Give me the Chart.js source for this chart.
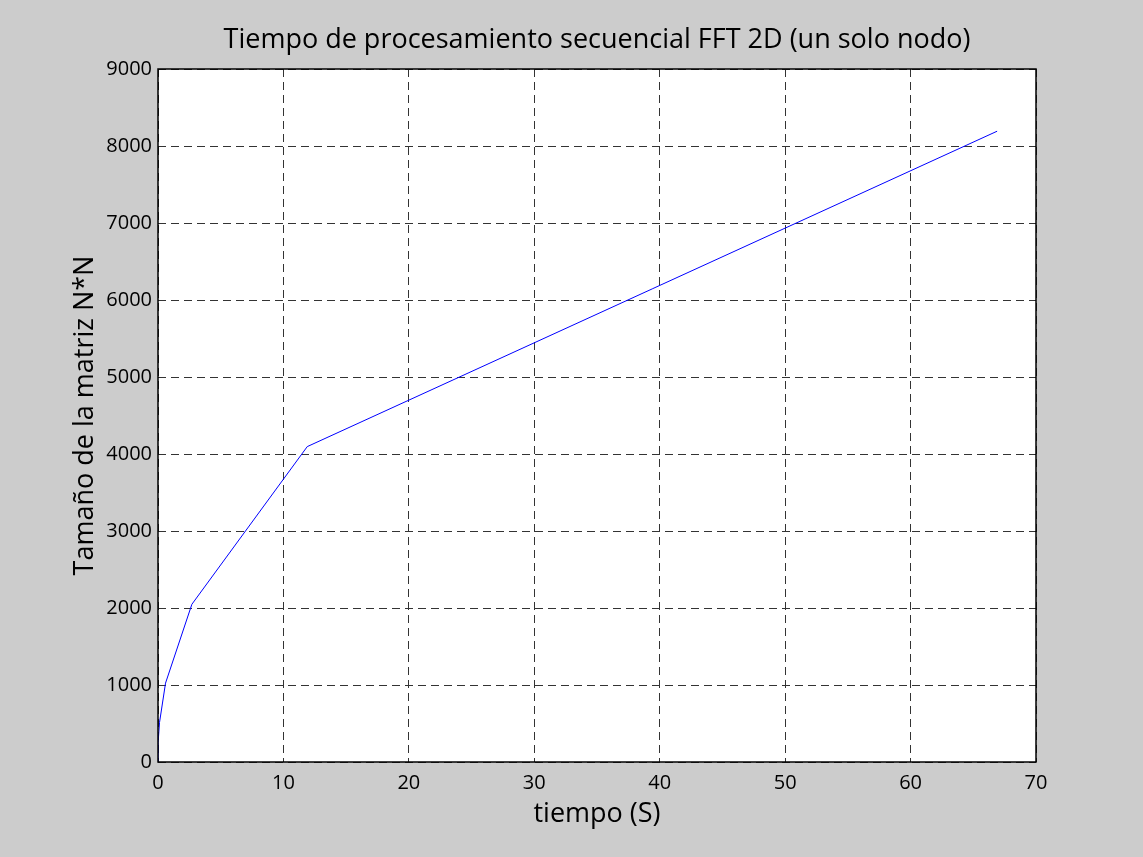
<!DOCTYPE html>
<html lang="es">
<head>
    <meta charset="UTF-8">
    <title>Tiempo de procesamiento secuencial FFT 2D</title>
    <style>
        html, body { margin: 0; padding: 0; background: #cccccc; }
        #wrap { width: 1143px; height: 857px; }
    </style>
    <script src="https://cdn.jsdelivr.net/npm/chart.js"></script>
</head>
<body>
    <div id="wrap"><canvas id="fftChart"></canvas></div>
    <script>
        // tiempo (s) vs tamaño N de la matriz
        const tiempos = [0, 0.01, 0.12, 0.6, 2.7, 11.9, 66.9];
        const tamanos = [0, 256, 512, 1024, 2048, 4096, 8192];
        const titulo = 'Tiempo de procesamiento secuencial FFT 2D (un solo nodo)';

        const puntos = tiempos.map((t, i) => ({ x: t, y: tamanos[i] }));

        // fondo gris, area blanca, marco negro y titulo centrado sobre el area
        const marco = {
            id: 'marco',
            beforeDraw(chart) {
                const c = chart.ctx, a = chart.chartArea;
                c.save();
                c.fillStyle = '#cccccc';
                c.fillRect(0, 0, chart.width, chart.height);
                c.fillStyle = '#ffffff';
                c.fillRect(a.left, a.top, a.right - a.left, a.bottom - a.top);
                c.restore();
            },
            afterDraw(chart) {
                const c = chart.ctx, a = chart.chartArea;
                c.save();
                c.strokeStyle = '#000000';
                c.lineWidth = 1.5;
                c.strokeRect(a.left, a.top, a.right - a.left, a.bottom - a.top);
                c.fillStyle = '#000000';
                c.font = '27px "Open Sans"';
                c.textAlign = 'center';
                c.textBaseline = 'middle';
                c.fillText(titulo, (a.left + a.right) / 2, 40);
                c.restore();
            }
        };

        const gridOpts = {
            color: '#333333',
            lineWidth: 1,
            drawTicks: false
        };

        new Chart(document.getElementById('fftChart'), {
            type: 'scatter',
            data: {
                datasets: [{
                    data: puntos,
                    showLine: true,
                    borderColor: '#0000ff',
                    borderWidth: 1,
                    pointRadius: 0,
                    tension: 0
                }]
            },
            options: {
                responsive: true,
                maintainAspectRatio: false,
                animation: false,
                layout: { padding: { top: 69, right: 107, bottom: 0, left: 0 } },
                plugins: {
                    legend: { display: false },
                    tooltip: { enabled: false },
                    title: { display: false }
                },
                scales: {
                    x: {
                        type: 'linear',
                        min: 0,
                        max: 70,
                        ticks: {
                            stepSize: 10,
                            color: '#000000',
                            padding: 9,
                            font: { family: 'Open Sans', size: 20 },
                            callback: v => String(v)
                        },
                        grid: gridOpts,
                        border: { display: false, dash: [8, 5] },
                        title: {
                            display: true,
                            text: 'tiempo (S)',
                            color: '#000000',
                            font: { family: 'Open Sans', size: 27 },
                            padding: { top: 0, bottom: 26 }
                        },
                        afterFit(axis) { axis.height = 95; }
                    },
                    y: {
                        min: 0,
                        max: 9000,
                        ticks: {
                            stepSize: 1000,
                            color: '#000000',
                            padding: 6,
                            font: { family: 'Open Sans', size: 20 },
                            callback: v => String(v)
                        },
                        grid: gridOpts,
                        border: { display: false, dash: [8, 5] },
                        title: {
                            display: true,
                            text: 'Tamaño de la matriz N*N',
                            color: '#000000',
                            font: { family: 'Open Sans', size: 27 },
                            padding: { top: 69, bottom: 0 }
                        },
                        afterFit(axis) { axis.width = 158; }
                    }
                }
            },
            plugins: [marco]
        });
    </script>
</body>
</html>
